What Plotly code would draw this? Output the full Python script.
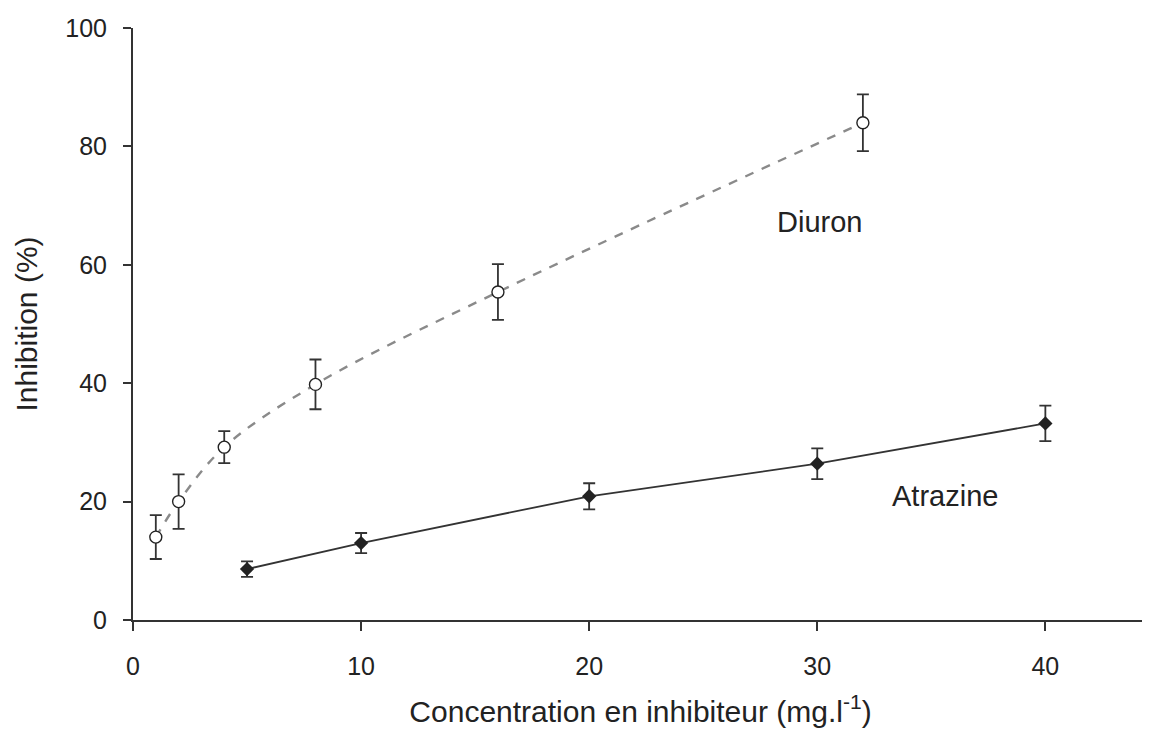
import plotly.graph_objects as go

diuron_x = [1, 2, 4, 8, 16, 32]
diuron_y = [14.0, 20.0, 29.2, 39.8, 55.4, 84.0]
diuron_err = [3.7, 4.6, 2.7, 4.2, 4.7, 4.8]

atrazine_x = [5, 10, 20, 30, 40]
atrazine_y = [8.6, 13.0, 20.9, 26.4, 33.2]
atrazine_err = [1.3, 1.7, 2.2, 2.6, 3.0]

x_ticks = [0, 10, 20, 30, 40]
y_ticks = [0, 20, 40, 60, 80, 100]

FONT = "Liberation Sans, Arial"

fig = go.Figure()

fig.add_trace(go.Scatter(
    x=diuron_x, y=diuron_y, mode="lines", line=dict(color="#8a8a8a", width=2.4, dash="dash", shape="spline", smoothing=1.0),
    showlegend=False, hoverinfo="skip"))
fig.add_trace(go.Scatter(
    x=diuron_x, y=diuron_y, mode="markers",
    marker=dict(symbol="circle", size=12, color="white", line=dict(color="#222", width=1.4)),
    error_y=dict(type="data", array=diuron_err, color="#333", thickness=1.8, width=6),
    showlegend=False, name="Diuron"))

fig.add_trace(go.Scatter(
    x=atrazine_x, y=atrazine_y, mode="lines+markers",
    line=dict(color="#333", width=1.8),
    marker=dict(symbol="diamond", size=11, color="#222"),
    error_y=dict(type="data", array=atrazine_err, color="#333", thickness=1.8, width=6),
    showlegend=False, name="Atrazine"))

fig.add_annotation(x=30.1, y=67.2, text="Diuron", showarrow=False, font=dict(size=29, color="#222", family=FONT))
fig.add_annotation(x=35.6, y=20.9, text="Atrazine", showarrow=False, font=dict(size=29, color="#222", family=FONT))

fig.update_layout(
    width=1142, height=723,
    margin=dict(l=125, r=2, t=20, b=111),
    plot_bgcolor="white", paper_bgcolor="white",
    font=dict(family=FONT, size=25, color="#222"),
)
fig.update_xaxes(
    range=[0, 44.5], tickvals=x_ticks, showgrid=False, zeroline=False, automargin=False,
    showline=True, linecolor="#333", linewidth=2, ticks="outside", ticklen=9, tickwidth=1.5, tickcolor="#333",
    ticklabelstandoff=14, tickfont=dict(size=25),
    title=dict(text="Concentration en inhibiteur (mg.l<sup>-1</sup>)", standoff=22, font=dict(size=30)))
fig.update_yaxes(
    range=[0, 100], tickvals=y_ticks, showgrid=False, zeroline=False, automargin=False,
    showline=True, linecolor="#333", linewidth=2, ticks="outside", ticklen=8, tickwidth=1.5, tickcolor="#333",
    ticklabelstandoff=11, tickfont=dict(size=25),
    title=dict(text="Inhibition (%)", standoff=19, font=dict(size=30)))

fig.write_html("out.html")
